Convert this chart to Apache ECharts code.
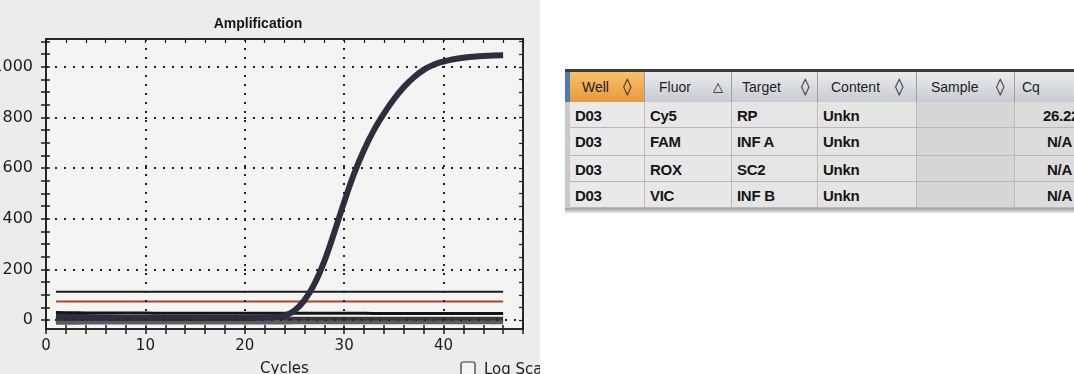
<!DOCTYPE html>
<html>
<head>
<meta charset="utf-8">
<script src="https://cdn.jsdelivr.net/npm/echarts@6/dist/echarts.min.js"></script>
<style>
  html, body { margin:0; padding:0; width:1074px; height:374px; overflow:hidden; background:#ffffff; }
  #photo { position:absolute; left:0; top:0; width:540px; height:374px; overflow:hidden; background:#ececec; }
  #chart { position:absolute; left:-20px; top:0; width:560px; height:374px; }
  #tbl { position:absolute; left:565px; top:69px; width:520px; height:145px; font-family:"Liberation Sans", Arial, sans-serif; }
  .cell { position:absolute; box-sizing:border-box; white-space:nowrap; }
  .hd { color:#1e1e1e; font-size:14px; }
  .rw { color:#161616; font-size:15px; font-weight:bold; letter-spacing:-0.3px; }
</style>
</head>
<body>
<div id="photo"><div id="chart"></div></div>
<div id="tbl"></div>
<script>
// ---- chart data ----
const cycles = [1,2,3,4,5,6,7,8,9,10,11,12,13,14,15,16,17,18,19,20,21,22,23,24,25,26,27,28,29,30,31,32,33,34,35,36,37,38,39,40,41,42,43,44,45,46];
const cy5 = [14,13,12,12,11,10,10,9,9,9,9,8,8,8,8,8,8,8,8,8,9,10,12,18,38,78,142,232,345,466,578,672,750,815,872,920,958,988,1008,1021,1030,1036,1040,1043,1045,1046];
const fam = [30,29,29,28,28,28,28,28,28,28,27,27,27,27,27,27,27,27,27,27,27,27,27,27,27,27,27,27,27,27,27,27,26,26,26,26,26,26,26,26,26,26,26,26,26,26];
const rox = [4,4,4,4,4,4,4,4,4,4,4,4,4,4,4,4,4,4,5,5,5,5,5,5,5,5,5,5,5,5,5,5,5,5,5,5,5,5,5,5,5,5,5,5,5,5];
const vic = [-10,-10,-10,-9,-9,-9,-9,-9,-9,-9,-9,-9,-9,-9,-9,-9,-9,-9,-9,-9,-9,-9,-9,-9,-8,-8,-8,-8,-8,-8,-8,-8,-8,-8,-8,-8,-8,-8,-8,-8,-8,-8,-8,-8,-8,-8];
const thresholdBlack = 112;
const thresholdRed = 74;
const thresholdSpan = [1, 46];
const xLabels = [0,10,20,30,40];
const xTicks = [0,2,4,6,8,10,12,14,16,18,20,22,24,26,28,30,32,34,36,38,40,42,44,46,48];
const yLabels = [0,200,400,600,800,1000];
const yTicks = [0,50,100,150,200,250,300,350,400,450,500,550,600,650,700,750,800,850,900,950,1000,1050,1100];
const gridX = [10,20,30,40];
const gridY = [0,200,400,600,800,1000];

// ---- table data ----
const headers = ['Well','Fluor','Target','Content','Sample','Cq'];
const sortIcons = ['\u25CA','\u25B3','\u25CA','\u25CA','\u25CA',''];
const wells = ['D03','D03','D03','D03'];
const fluors = ['Cy5','FAM','ROX','VIC'];
const targets = ['RP','INF A','SC2','INF B'];
const contents = ['Unkn','Unkn','Unkn','Unkn'];
const samples = ['','','',''];
const cqs = ['26.22','N/A','N/A','N/A'];

const pairs = arr => cycles.map((c, i) => [c, arr[i]]);
const ink = '#1c1c1c';

const chart = echarts.init(document.getElementById('chart'), null, {renderer:'canvas'});
const axisLineStyle = {color: ink, width: 1.6};
chart.setOption({
  backgroundColor: '#ececec',
  animation: false,
  grid: {left: 66, right: 17, top: 39, bottom: 45, outerBoundsMode: 'none', containLabel: false,
         show: true, backgroundColor: '#f4f4f3', borderColor: ink, borderWidth: 1.5},
  xAxis: [
    {type:'value', position:'bottom', min:0, max:48,
     axisLine:{show:true, onZero:false, lineStyle:axisLineStyle},
     axisTick:{show:true, customValues:xTicks, length:5, lineStyle:{color:ink, width:1.5}},
     axisLabel:{customValues:xLabels, color:ink, fontSize:15, fontFamily:'DejaVu Sans', margin:10},
     splitLine:{show:false},
     name:'Cycles', nameLocation:'middle', nameGap:33,
     nameTextStyle:{color:ink, fontSize:15, fontFamily:'DejaVu Sans', verticalAlign:'top'}},
    {type:'value', position:'bottom', min:0, max:48,
     axisLine:{show:false, onZero:false},
     axisTick:{show:true, inside:true, customValues:xTicks, length:4, lineStyle:{color:ink, width:1.5}},
     axisLabel:{show:false}, splitLine:{show:false}},
    {type:'value', position:'top', min:0, max:48,
     axisLine:{show:true, onZero:false, lineStyle:axisLineStyle},
     axisTick:{show:true, inside:true, customValues:xTicks, length:4, lineStyle:{color:ink, width:1.2}},
     axisLabel:{show:false}, splitLine:{show:false}}
  ],
  yAxis: [
    {type:'value', position:'left', min:-35, max:1110,
     axisLine:{show:true, onZero:false, lineStyle:axisLineStyle},
     axisTick:{show:true, customValues:yTicks, length:5, lineStyle:{color:ink, width:1.5}},
     axisLabel:{customValues:yLabels, color:ink, fontSize:16, fontFamily:'DejaVu Sans', margin:13,
                formatter: v => String(v)},
     splitLine:{show:false}},
    {type:'value', position:'left', min:-35, max:1110,
     axisLine:{show:false, onZero:false},
     axisTick:{show:true, inside:true, customValues:yTicks, length:4, lineStyle:{color:ink, width:1.5}},
     axisLabel:{show:false}, splitLine:{show:false}},
    {type:'value', position:'right', min:-35, max:1110,
     axisLine:{show:true, onZero:false, lineStyle:axisLineStyle},
     axisTick:{show:true, inside:true, customValues:yTicks, length:4, lineStyle:{color:ink, width:1.2}},
     axisLabel:{show:false}, splitLine:{show:false}}
  ],
  graphic: [
    {type:'text', x:278, y:24, style:{text:'Amplification', font:'bold 14px "Liberation Sans", Arial', fill:'#161616', align:'center', verticalAlign:'middle'}},
    {type:'rect', x:481, y:362, shape:{width:14, height:14, r:2}, style:{fill:'#f4f4f4', stroke:'#333', lineWidth:1.2}},
    {type:'text', x:504, y:370, style:{text:'Log Scale', font:'15px "DejaVu Sans"', fill:ink, verticalAlign:'middle'}}
  ],
  series: [
    {name:'grid', type:'line', data:[], silent:true, z:1,
     markLine:{silent:true, symbol:['none','none'], label:{show:false},
       lineStyle:{color:'#222', type:[2,7], width:2},
       emphasis:{disabled:true},
       data: gridY.map(v => ({yAxis:v})).concat(gridX.map(v => ({xAxis:v})))}},
    {name:'VIC', type:'line', data:pairs(vic), showSymbol:false, z:3, lineStyle:{color:'#5c5c5e', width:4}},
    {name:'ROX', type:'line', data:pairs(rox), showSymbol:false, z:3, lineStyle:{color:'#38383a', width:4}},
    {name:'FAM', type:'line', data:pairs(fam), showSymbol:false, z:3, lineStyle:{color:'#141414', width:3}},
    {name:'Thr1', type:'line', data:thresholdSpan.map(c => [c, thresholdBlack]), showSymbol:false, z:3, lineStyle:{color:'#1e1e1e', width:2}},
    {name:'Thr2', type:'line', data:thresholdSpan.map(c => [c, thresholdRed]), showSymbol:false, z:3, lineStyle:{color:'#a8452e', width:2}},
    {name:'Cy5', type:'line', data:pairs(cy5), smooth:0.4, showSymbol:false, z:4, lineStyle:{color:'#2c2f40', width:6}}
  ]
});

// ---- table ----
const tbl = document.getElementById('tbl');
const colX = [5,80,167,253,352,450,520];   // relative to table left (565)
const textPadH = [12,14,10,13,14,7];
const iconOff = [11,8,6,11,8,0];
const rowY = [33,59,87,113,139];           // relative to table top (69)
function add(html, css, cls) {
  const d = document.createElement('div');
  d.className = 'cell ' + (cls || '');
  d.innerHTML = html;
  Object.assign(d.style, css);
  tbl.appendChild(d);
  return d;
}
add('', {left:'0px', top:'0px', width:'520px', height:'3px', background:'#3b3b3d'});
add('', {left:'0px', top:'3px', width:'5px', height:'30px', background:'#4d79b8'});
add('', {left:'0px', top:'33px', width:'5px', height:'106px', background:'#c9c9c9'});
for (let c = 0; c < headers.length; c++) {
  const w = colX[c+1] - colX[c];
  const bg = c === 0 ? 'linear-gradient(#f7c06a,#e99a3c)' : 'linear-gradient(#e9ebee,#c8ccd2)';
  add('', {left:colX[c]+'px', top:'3px', width:w+'px', height:'30px', background:bg, borderRight:'1px solid #9aa0a8'});
  add(headers[c], {left:(colX[c]+textPadH[c])+'px', top:'10px', lineHeight:'16px'}, 'hd');
  if (sortIcons[c]) {
    const big = sortIcons[c] === '\u25CA';
    add(sortIcons[c], {left:(colX[c+1]-iconOff[c]-11)+'px', top:(big ? 8 : 9)+'px', lineHeight:'18px',
        fontSize:(big ? '17px' : '13px'), fontWeight:'bold', color:'#222', fontFamily:'DejaVu Sans'});
  }
}
const rowsData = [wells, fluors, targets, contents, samples, cqs];
const colBg = ['#e9e9e9','#e7e7e7','#e5e5e5','#e3e5e2','#d6d6d6','#dcdcdc'];
for (let r = 0; r < 4; r++) {
  const top = rowY[r], h = rowY[r+1] - rowY[r];
  for (let c = 0; c < headers.length; c++) {
    const w = colX[c+1] - colX[c];
    add('', {left:colX[c]+'px', top:top+'px', width:w+'px', height:h+'px', background:colBg[c], borderRight:'1px solid #bdbdbd', borderBottom:'1px solid #b8b8b8'});
    const txt = rowsData[c][r];
    if (!txt) continue;
    if (c === 5) {
      add(txt, {left:colX[c]+'px', width:(r === 0 ? 64 : 57)+'px', top:(top+5)+'px', lineHeight:'18px', textAlign:'right'}, 'rw');
    } else {
      add(txt, {left:(colX[c]+5)+'px', top:(top+5)+'px', lineHeight:'18px'}, 'rw');
    }
  }
}
add('', {left:'0px', top:'139px', width:'520px', height:'5px', background:'linear-gradient(#9c9c9c,#e8e8e8)'});
</script>
</body>
</html>
